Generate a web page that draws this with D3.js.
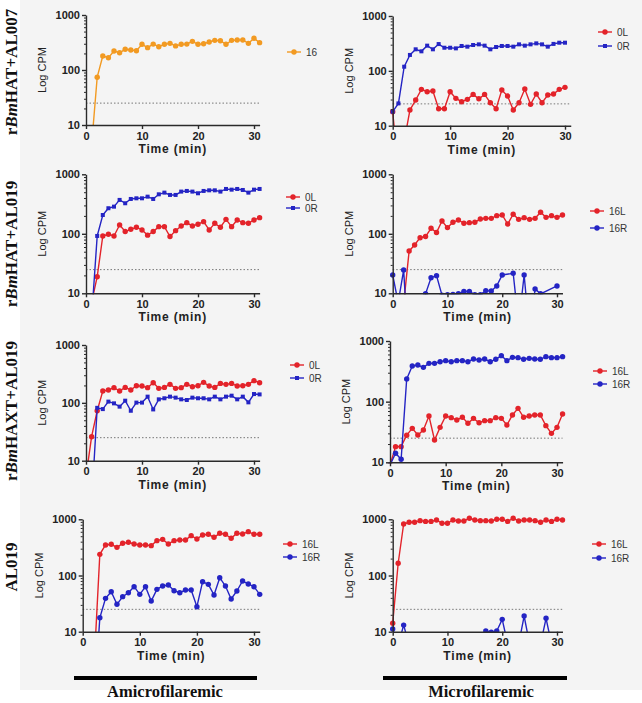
<!DOCTYPE html>
<html>
<head>
<meta charset="utf-8">
<script src="https://cdn.jsdelivr.net/npm/d3@7"></script>
<style>
  body { margin: 0; background: #fff; }
  svg { display: block; }
  .tick text { font-family: "Liberation Sans", Arial, sans-serif; font-weight: bold; font-size: 11px; fill: #222; }
</style>
</head>
<body>
<svg id="chart" width="642" height="703"></svg>
<script>
// Time points (min) and log CPM readings, one value per minute (null = no reading)
const minutes = d3.range(0, 32);
const threshold = 25; // dotted background line
const yMajor = [10, 100, 1000];
const xMajor = [0, 10, 20, 30];

// rBmHAT+AL007
const hat007Amf16 = [null, 4.3, 74, 180, 167, 221, 206, 238, 231, 224, 293, 255, 296, 265, 293, 305, 274, 293, 296, 332, 293, 300, 323, 346, 341, 293, 346, 351, 351, 305, 377, 314];
const hat007Mf0L = [18, 1.4, 5.2, 19.3, 29.4, 46, 41.7, 43, 20.4, 20.4, 41.7, 31.5, 27.4, 30.2, 37.2, 31, 37.2, 26.2, 20.4, 44.7, 34.7, 19.3, 26.2, 46.6, 24.5, 37.8, 26.2, 36.2, 37.8, 46, 50];
const hat007Mf0R = [18, 25.5, 119, 195, 247, 227, 288, 247, 308, 264, 264, 257, 284, 276, 296, 304, 288, 247, 272, 284, 284, 276, 304, 288, 304, 317, 304, 276, 310, 326, 326];

// rBmHAT+AL019
const hat019Amf0L = [null, 7, 19, 92, 98, 92, 141, 109, 119, 129, 116, 95, 109, 132, 132, 90, 113, 135, 154, 135, 145, 160, 116, 150, 129, 175, 132, 171, 154, 150, 171, 187];
const hat019Amf0R = [null, 3.9, 92, 207, 269, 286, 371, 326, 385, 395, 395, 421, 385, 461, 492, 450, 450, 512, 525, 512, 480, 525, 538, 538, 512, 567, 552, 567, 545, 492, 552, 567];
const hat019Mf16L = [null, null, 6.6, 51.4, 65, 86, 90, 124, 105, 164, 127, 156, 171, 150, 154, 156, 177, 182, 182, 202, 207, 146, 213, 175, 187, 175, 182, 230, 189, 202, 189, 207];
const hat019Mf16R = [20.3, 7, 24.6, 0.7, 1, 1, 9.8, 18.3, 19.8, 9.3, 9.5, 9.6, 9.8, 10.7, 10.7, 9.5, 9.5, 11.1, 10.9, 13.3, 20.3, null, 21.7, 3, 20.3, 2, 11.8, 9.8, null, null, 13.3, null];

// rBmHAXT+AL019
const haxt019Amf0L = [5.3, 26, 73, 160, 167, 183, 160, 185, 167, 198, 195, 183, 223, 178, 185, 209, 178, 183, 209, 190, 198, 226, 195, 185, 217, 209, 217, 195, 198, 209, 242, 223];
const haxt019Amf0R = [null, 1.8, 82, 78, 105, 98, 86, 109, 73, 101, 101, 128, 77, 115, 120, 128, 123, 115, 112, 123, 120, 120, 115, 128, 115, 128, 133, 115, 128, 102, 142, 140];
const haxt019Mf16L = [9, 18.1, 18.1, 28, 36.3, 28.2, 34.1, 58, 23.3, 37.7, 58, 54.5, 49.9, 55.2, 44, 53, 45, 48.6, 48.6, 54.5, 53, 41.2, 60.3, 77.6, 55.2, 58, 60.3, 60.3, 40.2, 30, 37.7, 62.6];
const haxt019Mf16R = [9, 14.1, 11.2, 237, 387, 402, 368, 428, 428, 456, 474, 456, 474, 474, 456, 505, 486, 505, 456, 499, 573, 474, 538, 531, 499, 518, 505, 499, 552, 531, 531, 552];

// AL019 alone
const al019Amf16L = [null, null, 2.6, 238, 349, 359, 317, 374, 390, 364, 349, 349, 340, 417, 440, 364, 417, 428, 428, 512, 446, 526, 541, 478, 563, 541, 459, 563, 548, 603, 541, 541];
const al019Amf16R = [null, null, 0.5, 17.7, 39.2, 51.5, 30.7, 42, 49.4, 63.2, 46.2, 63.2, 35.2, 56.7, 65, 67.8, 53.7, 49.4, 55.2, 55.2, 27.8, 77.6, 69.6, 45, 91.4, 65, 38.2, 53, 79.8, 70.6, 63.2, 46.2];
const al019Mf16L = [14.1, 165, 826, 885, 885, 947, 917, 917, 973, 849, 849, 973, 933, 933, 1042, 973, 947, 947, 933, 1000, 1000, 917, 1042, 933, 973, 973, 947, 885, 973, 917, 1000, 973];
const al019Mf16R = [11.2, 5.8, 13.1, 5.8, null, null, null, null, null, null, null, null, null, null, null, null, 6, 10.3, 9.8, 10.3, 16.6, 6, null, 6, 19, 6, null, 6, 17.3, 6, null, null];

const rowLabels = [["r", "Bm", "HAT+AL007"], ["r", "Bm", "HAT+AL019"], ["r", "Bm", "HAXT+AL019"], ["", "", "AL019"]];
const groupLabels = ["Amicrofilaremic", "Microfilaremic"];

const RED = "#e3232a", BLUE = "#2424c4", ORANGE = "#f29a22";

// panel placement (pixels)
const panels = [
  { x0: 86, x30: 254, yTop: 15, yBot: 125, legX: 287, legY: [52],
    series: [{ name: "16", values: hat007Amf16, color: ORANGE, shape: "circle" }] },
  { x0: 392.7, x30: 565, yTop: 16, yBot: 125.7, legX: 598, legY: [32, 46],
    series: [{ name: "0L", values: hat007Mf0L, color: RED, shape: "circle" },
             { name: "0R", values: hat007Mf0R, color: BLUE, shape: "square" }] },
  { x0: 86, x30: 254, yTop: 174.3, yBot: 293.3, legX: 286, legY: [197, 208],
    series: [{ name: "0L", values: hat019Amf0L, color: RED, shape: "circle" },
             { name: "0R", values: hat019Amf0R, color: BLUE, shape: "square" }] },
  { x0: 392.7, x30: 557, yTop: 174.3, yBot: 293.3, legX: 590, legY: [211, 228],
    series: [{ name: "16L", values: hat019Mf16L, color: RED, shape: "circle" },
             { name: "16R", values: hat019Mf16R, color: BLUE, shape: "circle" }] },
  { x0: 86, x30: 254, yTop: 345, yBot: 460.7, legX: 290, legY: [365, 378],
    series: [{ name: "0L", values: haxt019Amf0L, color: RED, shape: "circle" },
             { name: "0R", values: haxt019Amf0R, color: BLUE, shape: "square" }] },
  { x0: 390, x30: 557, yTop: 341, yBot: 462.3, legX: 593, legY: [371, 384],
    series: [{ name: "16L", values: haxt019Mf16L, color: RED, shape: "circle" },
             { name: "16R", values: haxt019Mf16R, color: BLUE, shape: "circle" }] },
  { x0: 82.7, x30: 254, yTop: 519.3, yBot: 631.7, legX: 283, legY: [544, 557],
    series: [{ name: "16L", values: al019Amf16L, color: RED, shape: "circle" },
             { name: "16R", values: al019Amf16R, color: BLUE, shape: "circle" }] },
  { x0: 392.7, x30: 557, yTop: 519.3, yBot: 631.7, legX: 592, legY: [544, 558],
    series: [{ name: "16L", values: al019Mf16L, color: RED, shape: "circle" },
             { name: "16R", values: al019Mf16R, color: BLUE, shape: "circle" }] }
];

const svg = d3.select("#chart");

// light grey figure background
svg.append("rect").attr("x", 20).attr("y", 0).attr("width", 622).attr("height", 690).attr("fill", "#f4f4f4");

function drawMarker(sel, shape, color) {
  if (shape === "square") {
    sel.append("rect").attr("x", -2).attr("y", -2).attr("width", 4).attr("height", 4).attr("fill", color);
  } else {
    sel.append("circle").attr("r", 2.7).attr("fill", color);
  }
}

function drawPanel(p, i) {
  const ppm = (p.x30 - p.x0) / 30;
  const x = d3.scaleLinear().domain([0, 31]).range([p.x0, p.x0 + 31 * ppm]);
  const y = d3.scaleLog().domain([10, 1000]).range([p.yBot, p.yTop]);
  const g = svg.append("g");

  const clipId = "clip" + i;
  g.append("clipPath").attr("id", clipId).append("rect")
    .attr("x", p.x0 - 6).attr("y", p.yTop - 10)
    .attr("width", x(31) - p.x0 + 12).attr("height", p.yBot - p.yTop + 11);

  // detection threshold
  g.append("line")
    .attr("x1", p.x0).attr("x2", x(31))
    .attr("y1", y(threshold)).attr("y2", y(threshold))
    .attr("stroke", "#777").attr("stroke-width", 1).attr("stroke-dasharray", "1.5,2");

  const plot = g.append("g").attr("clip-path", `url(#${clipId})`);
  p.series.forEach(s => {
    const pts = minutes.map(t => ({ t: t, v: s.values[t] }))
      .filter(d => d.v !== null && d.v !== undefined);
    plot.append("path").datum(pts)
      .attr("fill", "none").attr("stroke", s.color).attr("stroke-width", 1.4)
      .attr("d", d3.line().x(d => x(d.t)).y(d => y(d.v)));
    plot.selectAll(null).data(pts.filter(d => d.v >= 8)).enter().append("g")
      .attr("transform", d => `translate(${x(d.t)},${y(d.v)})`)
      .each(function () { drawMarker(d3.select(this), s.shape, s.color); });
  });

  // y axis: major + minor log ticks
  const minor = [];
  [10, 100].forEach(dec => { for (let k = 2; k <= 9; k++) minor.push(k * dec); });
  const yMinor = g.append("g").attr("transform", `translate(${p.x0},0)`)
    .call(d3.axisLeft(y).tickValues(minor).tickFormat("").tickSize(2).tickSizeOuter(0));
  yMinor.select(".domain").remove();
  const yAx = g.append("g").attr("transform", `translate(${p.x0},0)`)
    .call(d3.axisLeft(y).tickValues(yMajor).tickFormat(d3.format("d")).tickSize(4).tickSizeOuter(0).tickPadding(2));

  const xAx = g.append("g").attr("transform", `translate(0,${p.yBot})`)
    .call(d3.axisBottom(x).tickValues(xMajor).tickSize(4).tickSizeOuter(0).tickPadding(3));

  [yAx, xAx, yMinor].forEach(a => {
    a.selectAll("path, line").attr("stroke", "#2a2a2a").attr("stroke-width", 1.4);
  });
  yMinor.selectAll("line").attr("stroke-width", 1);

  g.append("text")
    .attr("x", (p.x0 + x(31)) / 2).attr("y", p.yBot + 28)
    .attr("text-anchor", "middle")
    .style("font-family", "Liberation Sans, Arial, sans-serif")
    .style("font-weight", "bold").style("font-size", "12px").style("letter-spacing", "0.8px")
    .attr("fill", "#222")
    .text("Time (min)");

  g.append("text")
    .attr("transform", `translate(${p.x0 - 40},${(p.yTop + p.yBot) / 2}) rotate(-90)`)
    .attr("text-anchor", "middle")
    .style("font-family", "Liberation Sans, Arial, sans-serif").style("font-size", "11px")
    .attr("fill", "#222")
    .text("Log CPM");

  // legend
  p.series.forEach((s, k) => {
    const lg = g.append("g").attr("transform", `translate(${p.legX},${p.legY[k]})`);
    lg.append("line").attr("x1", 0).attr("x2", 14).attr("stroke", s.color).attr("stroke-width", 1.4);
    drawMarker(lg.append("g").attr("transform", "translate(7,0)"), s.shape, s.color);
    lg.append("text").attr("x", 19).attr("dy", "0.35em")
      .style("font-family", "Liberation Sans, Arial, sans-serif").style("font-size", "10px")
      .attr("fill", "#333").text(s.name);
  });
}

panels.forEach(drawPanel);

// row labels (rotated, serif bold)
const rowCenters = [72, 244, 411, 567];
rowLabels.forEach((parts, r) => {
  const t = svg.append("text")
    .attr("transform", `translate(17,${rowCenters[r]}) rotate(-90)`)
    .attr("text-anchor", "middle")
    .style("font-family", "Liberation Serif, Times New Roman, serif")
    .style("font-weight", "bold").style("font-size", "17px")
    .attr("fill", "#111");
  t.append("tspan").text(parts[0]);
  t.append("tspan").style("font-style", "italic").text(parts[1]);
  t.append("tspan").text(parts[2]);
});

// group bars + labels
const groups = [{ x1: 74, x2: 257, cx: 165 }, { x1: 383, x2: 567, cx: 481 }];
groups.forEach((gr, k) => {
  svg.append("rect").attr("x", gr.x1).attr("y", 676).attr("width", gr.x2 - gr.x1).attr("height", 4).attr("fill", "#000");
  svg.append("text").attr("x", gr.cx).attr("y", 697).attr("text-anchor", "middle")
    .style("font-family", "Liberation Serif, Times New Roman, serif")
    .style("font-weight", "bold").style("font-size", "16.5px")
    .attr("fill", "#111").text(groupLabels[k]);
});
</script>
</body>
</html>
